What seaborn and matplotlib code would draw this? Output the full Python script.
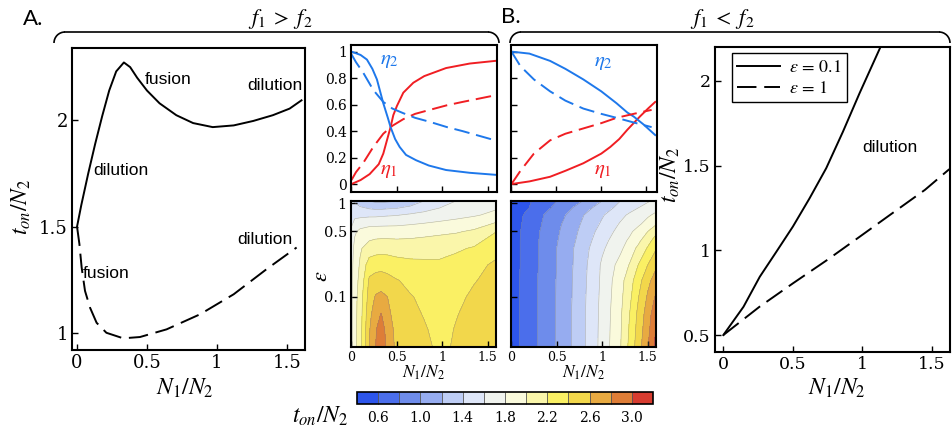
import numpy as np
import matplotlib
matplotlib.use("Agg")
import matplotlib.pyplot as plt
from matplotlib.patches import Arc
from matplotlib.ticker import FormatStrFormatter
import seaborn as sns

# ---- panel A, f1 > f2 : t_on/N_2 vs N_1/N_2 ----
a_solid_x = [0, 0.03, 0.08, 0.13, 0.18, 0.23, 0.28, 0.335, 0.38, 0.43, 0.5, 0.59,
             0.71, 0.83, 0.97, 1.12, 1.26, 1.4, 1.52, 1.605]
a_solid_y = [1.5, 1.6, 1.75, 1.89, 2.02, 2.14, 2.23, 2.272, 2.25, 2.2, 2.14, 2.08,
             2.024, 1.987, 1.968, 1.976, 1.997, 2.024, 2.055, 2.094]
a_dash_x = [0, 0.017, 0.033, 0.057, 0.093, 0.14, 0.21, 0.33, 0.45, 0.64, 0.88,
            1.12, 1.355, 1.57]
a_dash_y = [1.5, 1.418, 1.308, 1.198, 1.119, 1.048, 1.001, 0.975, 0.981, 1.017,
            1.088, 1.182, 1.3, 1.402]

# ---- eta panels, f1 > f2 ----
eta1_a_x = [0, 0.1, 0.2, 0.3, 0.35, 0.39, 0.43, 0.46, 0.5, 0.57, 0.68, 0.8, 1.04, 1.3, 1.58]
eta1_a_y = [0, 0.03, 0.075, 0.15, 0.23, 0.33, 0.43, 0.52, 0.59, 0.69, 0.765, 0.815, 0.876, 0.91, 0.93]
eta2_a_x = [0, 0.1, 0.17, 0.23, 0.28, 0.35, 0.4, 0.43, 0.48, 0.53, 0.6, 0.71, 0.85, 1.04, 1.3, 1.58]
eta2_a_y = [1.0, 0.975, 0.94, 0.87, 0.79, 0.61, 0.5, 0.43, 0.34, 0.28, 0.22, 0.18, 0.14, 0.106, 0.085, 0.07]
eta_dash_a_x = [0, 0.05, 0.13, 0.24, 0.35, 0.45, 0.57, 0.7, 0.86, 1.05, 1.22, 1.4, 1.58]
eta1_dash_a_y = [0.03, 0.09, 0.16, 0.28, 0.38, 0.44, 0.49, 0.53, 0.56, 0.595, 0.62, 0.645, 0.67]
eta2_dash_a_y = [0.98, 0.92, 0.84, 0.71, 0.62, 0.57, 0.535, 0.5, 0.47, 0.43, 0.4, 0.365, 0.33]

# ---- eta panels, f1 < f2 ----
eta2_b_x = [0, 0.2, 0.43, 0.6, 0.8, 1.0, 1.17, 1.29, 1.36, 1.47, 1.6]
eta2_b_y = [1.0, 0.985, 0.93, 0.87, 0.79, 0.7, 0.61, 0.54, 0.51, 0.45, 0.37]
eta1_b_x = [0, 0.2, 0.43, 0.6, 0.8, 1.0, 1.1, 1.2, 1.29, 1.36, 1.43, 1.52, 1.6]
eta1_b_y = [0, 0.02, 0.055, 0.1, 0.157, 0.23, 0.28, 0.34, 0.41, 0.46, 0.51, 0.57, 0.62]
eta_dash_b_x = [0, 0.1, 0.25, 0.43, 0.6, 0.8, 1.0, 1.17, 1.36, 1.56]
eta2_dash_b_y = [1.0, 0.89, 0.79, 0.7, 0.63, 0.57, 0.53, 0.5, 0.465, 0.43]
eta1_dash_b_y = [0, 0.1, 0.23, 0.33, 0.38, 0.42, 0.46, 0.5, 0.53, 0.56]

# ---- contour grids: t_on/N_2 over (N_1/N_2, epsilon) ----
ton_levels = [0.4, 0.6, 0.8, 1.0, 1.2, 1.4, 1.6, 1.8, 2.0, 2.2, 2.4, 2.6, 2.8, 3.0, 3.2]
band_colors = ['#2d55eb', '#4b6eeb', '#6e8ceb', '#96acf0', '#becdf5', '#dee6f8', '#f0f3ee',
               '#fafadc', '#faf6aa', '#faf064', '#f2d74b', '#e8aa41', '#de7d37', '#d73c30']
cbar_ticks = [0.6, 1.0, 1.4, 1.8, 2.2, 2.6, 3.0]
eps_ticks = [0.1, 0.5, 1]

grid_a_x = [0, 0.04, 0.1, 0.2, 0.27, 0.33, 0.4, 0.5, 0.65, 0.8, 0.97, 1.15, 1.35, 1.6]
grid_a_eps = [0.029, 0.045, 0.065, 0.1, 0.15, 0.22, 0.33, 0.5, 0.75, 1.06]
ton_a = [
    [1.7, 1.93, 2.12, 2.6, 2.8, 2.95, 2.75, 2.55, 2.5, 2.45, 2.36, 2.42, 2.5, 2.55],
    [1.7, 1.93, 2.12, 2.58, 2.78, 2.9, 2.72, 2.53, 2.48, 2.42, 2.34, 2.41, 2.48, 2.54],
    [1.7, 1.93, 2.11, 2.54, 2.72, 2.81, 2.66, 2.5, 2.45, 2.39, 2.33, 2.39, 2.46, 2.52],
    [1.7, 1.92, 2.1, 2.48, 2.62, 2.66, 2.6, 2.47, 2.41, 2.37, 2.31, 2.36, 2.43, 2.5],
    [1.7, 1.92, 2.05, 2.43, 2.47, 2.48, 2.46, 2.41, 2.36, 2.32, 2.29, 2.33, 2.39, 2.46],
    [1.7, 1.9, 2.02, 2.3, 2.33, 2.34, 2.32, 2.28, 2.25, 2.24, 2.23, 2.27, 2.34, 2.44],
    [1.68, 1.86, 1.98, 2.08, 2.11, 2.12, 2.12, 2.11, 2.11, 2.12, 2.14, 2.17, 2.22, 2.33],
    [1.62, 1.77, 1.85, 1.9, 1.91, 1.91, 1.91, 1.91, 1.92, 1.94, 1.96, 1.98, 2.03, 2.2],
    [1.52, 1.55, 1.55, 1.56, 1.56, 1.57, 1.58, 1.59, 1.63, 1.66, 1.7, 1.74, 1.78, 1.85],
    [1.42, 1.38, 1.3, 1.2, 1.16, 1.15, 1.17, 1.19, 1.27, 1.4, 1.5, 1.6, 1.66, 1.72],
]

grid_b_x = [0, 0.2, 0.4, 0.6, 0.8, 1.0, 1.2, 1.3, 1.4, 1.5, 1.6]
grid_b_eps = [0.029, 0.065, 0.1, 0.15, 0.22, 0.33, 0.4, 0.5, 0.6, 0.75, 0.9, 1.06]
ton_b = [
    [0.5, 0.71, 0.91, 1.12, 1.375, 1.67, 1.99, 2.25, 2.52, 2.79, 3.1],
    [0.5, 0.71, 0.91, 1.12, 1.375, 1.66, 1.97, 2.2, 2.46, 2.7, 2.98],
    [0.5, 0.71, 0.91, 1.11, 1.37, 1.65, 1.95, 2.15, 2.4, 2.63, 2.85],
    [0.5, 0.71, 0.905, 1.11, 1.36, 1.64, 1.93, 2.11, 2.33, 2.54, 2.72],
    [0.5, 0.7, 0.9, 1.1, 1.35, 1.63, 1.87, 2.01, 2.21, 2.4, 2.57],
    [0.5, 0.7, 0.9, 1.1, 1.33, 1.57, 1.76, 1.9, 2.05, 2.22, 2.4],
    [0.5, 0.7, 0.89, 1.08, 1.3, 1.53, 1.73, 1.83, 1.96, 2.13, 2.3],
    [0.5, 0.69, 0.88, 1.06, 1.27, 1.48, 1.67, 1.76, 1.88, 2.0, 2.17],
    [0.5, 0.67, 0.86, 1.04, 1.24, 1.43, 1.62, 1.69, 1.77, 1.88, 2.0],
    [0.5, 0.65, 0.84, 1.0, 1.2, 1.38, 1.55, 1.63, 1.7, 1.77, 1.85],
    [0.5, 0.6, 0.765, 0.93, 1.11, 1.3, 1.46, 1.53, 1.6, 1.67, 1.74],
    [0.5, 0.58, 0.73, 0.87, 1.01, 1.2, 1.4, 1.46, 1.52, 1.58, 1.65],
]

# ---- panel B, f1 < f2 ----
b_solid_x = [0, 0.145, 0.262, 0.38, 0.5, 0.62, 0.74, 0.86, 0.98, 1.13]
b_solid_y = [0.5, 0.667, 0.844, 0.99, 1.14, 1.307, 1.485, 1.7, 1.928, 2.2]
b_dash_x = [0, 0.26, 0.5, 0.75, 0.98, 1.2, 1.45, 1.625]
b_dash_y = [0.5, 0.667, 0.805, 0.945, 1.08, 1.21, 1.357, 1.479]

RED = '#f01e23'
BLUE = '#1e78eb'
W, H = 952, 432

plt.rcParams['font.family'] = 'DejaVu Serif'
plt.rcParams['mathtext.fontset'] = 'stix'

fig = plt.figure(figsize=(9.52, 4.32), dpi=100)


def box(l, t, r, b):
    return [l / W, 1 - b / H, (r - l) / W, (b - t) / H]


def ftext(x, y, s, **kw):
    fig.text(x / W, 1 - y / H, s, ha='center', va='center', **kw)


def style(ax, size=13):
    for s in ax.spines.values():
        s.set_linewidth(1.5)
        s.set_color('k')
    ax.tick_params(direction='in', length=4, width=1, labelsize=size, pad=3, colors='k')
    ax.xaxis.set_major_formatter(FormatStrFormatter('%g'))
    ax.yaxis.set_major_formatter(FormatStrFormatter('%g'))
    ax.set_xlabel('')
    ax.set_ylabel('')


# overlay for brackets
over = fig.add_axes([0, 0, 1, 1])
over.set_xlim(0, W)
over.set_ylim(H, 0)
over.axis('off')


def bracket(x0, x1, y, r):
    over.plot([x0 + r, x1 - r], [y, y], color='k', lw=1.2)
    over.add_patch(Arc((x0 + r, y + r), 2 * r, 2 * r, theta1=180, theta2=270, color='k', lw=1.2))
    over.add_patch(Arc((x1 - r, y + r), 2 * r, 2 * r, theta1=270, theta2=360, color='k', lw=1.2))


bracket(54, 499, 32, 11)
bracket(510, 950, 32, 11)
ftext(33, 19, 'A.', fontsize=16, family='Lato')
ftext(511, 17, 'B.', fontsize=16, family='Lato')
ftext(280, 19, r'$f_1\;>\;f_2$', fontsize=16)
ftext(722, 19, r'$f_1\;<\;f_2$', fontsize=16)

# ---- panel A ----
ax_a = fig.add_axes(box(72, 48, 305, 350))
sns.lineplot(x=a_solid_x, y=a_solid_y, ax=ax_a, color='k', lw=1.4)
sns.lineplot(x=a_dash_x, y=a_dash_y, ax=ax_a, color='k', lw=1.4, linestyle=(0, (10, 4)))
ax_a.set_xlim(-0.036, 1.63)
ax_a.set_ylim(0.92, 2.34)
ax_a.set_xticks([0, 0.5, 1, 1.5])
ax_a.set_yticks([1, 1.5, 2])
style(ax_a, 13)
lab = dict(fontsize=12.5, family='Liberation Sans', va='center')
ax_a.text(0.486, 2.19, 'fusion', **lab)
ax_a.text(1.214, 2.165, 'dilution', **lab)
ax_a.text(0.114, 1.764, 'dilution', **lab)
ax_a.text(1.143, 1.439, 'dilution', **lab)
ax_a.text(0.043, 1.278, 'fusion', **lab)
ftext(21, 207, r'$t_{on}/N_2$', fontsize=17, rotation=90)
ftext(185, 388, r'$N_1/N_2$', fontsize=17)


# ---- eta panels ----
def eta_panel(rect, lines, labels, ylabels):
    ax = fig.add_axes(box(*rect))
    for x, y, c, ls in lines:
        sns.lineplot(x=x, y=y, ax=ax, color=c, lw=1.4, linestyle=ls)
    ax.set_ylim(-0.06, 1.05)
    ax.set_xticks([0, 0.5, 1, 1.5])
    ax.set_yticks([0, 0.2, 0.4, 0.6, 0.8, 1])
    style(ax, 10)
    ax.tick_params(labelbottom=False, labelleft=ylabels)
    for x, y, s, c in labels:
        ax.text(x, y, s, color=c, fontsize=15, ha='center', va='center')
    return ax


dash = (0, (8, 3.5))
ax_ea = eta_panel((351, 45, 497, 192),
                  [(eta1_a_x, eta1_a_y, RED, '-'), (eta2_a_x, eta2_a_y, BLUE, '-'),
                   (eta_dash_a_x, eta1_dash_a_y, RED, dash), (eta_dash_a_x, eta2_dash_a_y, BLUE, dash)],
                  [(0.42, 0.93, r'$\eta_2$', BLUE), (0.41, 0.106, r'$\eta_1$', RED)], True)
ax_ea.set_xlim(-0.005, 1.6)
ax_eb = eta_panel((511, 45, 657, 192),
                  [(eta1_b_x, eta1_b_y, RED, '-'), (eta2_b_x, eta2_b_y, BLUE, '-'),
                   (eta_dash_b_x, eta1_dash_b_y, RED, dash), (eta_dash_b_x, eta2_dash_b_y, BLUE, dash)],
                  [(1.02, 0.917, r'$\eta_2$', BLUE), (1.02, 0.106, r'$\eta_1$', RED)], False)
ax_eb.set_xlim(-0.005, 1.62)


# ---- contour panels (epsilon on a log axis, contoured in log10 space) ----
def contour_panel(rect, gx, geps, z, ylabels):
    ax = fig.add_axes(box(*rect))
    ly = np.log10(geps)
    cf = ax.contourf(gx, ly, z, levels=ton_levels, colors=band_colors)
    ax.contour(gx, ly, z, levels=ton_levels, colors='#808080', linewidths=0.4, alpha=0.6)
    ax.set_ylim(ly[0], ly[-1])
    ax.set_xlim(0, 1.59)
    ax.set_xticks([0, 0.5, 1, 1.5])
    style(ax, 9)
    ax.set_yticks(np.log10(eps_ticks))
    ax.set_yticklabels([f'{e:g}' for e in eps_ticks])
    ax.tick_params(axis='y', labelsize=10.5, labelleft=ylabels)
    return cf


cf_a = contour_panel((351, 201, 496, 347), grid_a_x, grid_a_eps, ton_a, True)
contour_panel((511, 201, 656, 347), grid_b_x, grid_b_eps, ton_b, False)
ftext(321, 276, r'$\varepsilon$', fontsize=16, rotation=90)
ftext(424, 373, r'$N_1/N_2$', fontsize=12.5)
ftext(584, 373, r'$N_1/N_2$', fontsize=12.5)

cax = fig.add_axes(box(357, 392, 653, 404))
cb = fig.colorbar(cf_a, cax=cax, orientation='horizontal', ticks=cbar_ticks, drawedges=True)
cb.outline.set_linewidth(1.2)
cb.outline.set_edgecolor('k')
cb.dividers.set_color('#555555')
cb.dividers.set_linewidth(0.6)
cax.tick_params(length=0, labelsize=10, pad=5)
cax.xaxis.set_major_formatter(FormatStrFormatter('%.1f'))
ftext(320, 416, r'$t_{on}/N_2$', fontsize=17)

# ---- panel B ----
ax_b = fig.add_axes(box(715, 47, 950, 352))
sns.lineplot(x=b_solid_x, y=b_solid_y, ax=ax_b, color='k', lw=1.4, label=r'$\varepsilon\,=\,0.1$')
sns.lineplot(x=b_dash_x, y=b_dash_y, ax=ax_b, color='k', lw=1.4, linestyle=(0, (10, 4)),
             label=r'$\varepsilon\,=\,1$')
ax_b.set_xlim(-0.06, 1.63)
ax_b.set_ylim(0.40, 2.2)
ax_b.set_xticks([0, 0.5, 1, 1.5])
ax_b.set_yticks([0.5, 1, 1.5, 2])
style(ax_b, 12.5)
leg = ax_b.legend(loc='upper left', bbox_to_anchor=(0.071, 0.981), borderaxespad=0,
                  fontsize=13, frameon=True, fancybox=False, framealpha=1, edgecolor='k',
                  handlelength=2.4, borderpad=0.3, labelspacing=0.15, handletextpad=0.5)
leg.get_frame().set_linewidth(1.0)
ax_b.text(0.998, 1.604, 'dilution', fontsize=12.5, family='Liberation Sans', va='center')
ftext(670, 175, r'$t_{on}/N_2$', fontsize=17, rotation=90)
ftext(837, 388, r'$N_1/N_2$', fontsize=17)

fig.savefig('out.png', dpi=100)
